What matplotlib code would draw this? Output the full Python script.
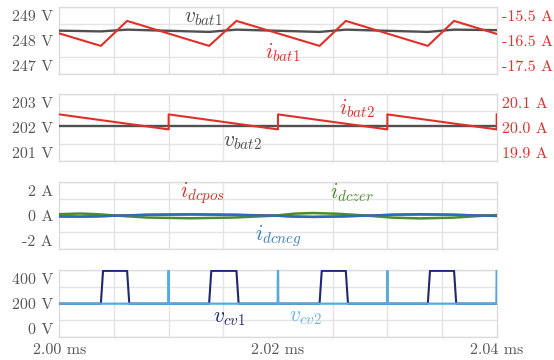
import numpy as np
import matplotlib
matplotlib.use("Agg")
import matplotlib.pyplot as plt
from matplotlib.ticker import FixedLocator, FixedFormatter, NullFormatter

plt.rcParams['font.family'] = 'cmr10'
plt.rcParams['mathtext.fontset'] = 'cm'
plt.rcParams['axes.unicode_minus'] = False

# ---------------- data ----------------
# panel 1: battery 1
t_bat1 = [2.0000, 2.0038, 2.0062, 2.0137, 2.0162, 2.0238, 2.0262, 2.0337, 2.0361, 2.0400]
i_bat1 = [-16.21, -16.71, -15.71, -16.71, -15.71, -16.71, -15.71, -16.71, -15.71, -16.23]
v_bat1 = [248.40, 248.37, 248.44, 248.35, 248.44, 248.35, 248.44, 248.35, 248.44, 248.42]

# panel 2: battery 2
t_bat2 = [2.0000, 2.0100, 2.0100, 2.0200, 2.0200, 2.0300, 2.0300, 2.0400, 2.0400]
i_bat2 = [20.053, 19.993, 20.053, 19.993, 20.053, 19.993, 20.053, 19.993, 20.053]
t_vbat2 = [2.0000, 2.0400]
v_bat2 = [202.05, 202.05]

# panel 3: dc currents
t_dc = [2.0000, 2.0019, 2.0036, 2.0053, 2.0080, 2.0120, 2.0160, 2.0197, 2.0215,
        2.0232, 2.0255, 2.0282, 2.0305, 2.0330, 2.0360, 2.0389, 2.0400]
i_dczer = [0.12, 0.17, 0.11, 0.0, -0.15, -0.21, -0.15, 0.0, 0.16,
           0.21, 0.15, 0.0, -0.16, -0.22, -0.16, 0.0, 0.05]
i_dcpos = [-0.07, -0.09, -0.06, 0.0, 0.08, 0.11, 0.08, 0.0, -0.08,
           -0.11, -0.08, 0.0, 0.08, 0.12, 0.08, 0.0, -0.03]
i_dcneg = [-0.05, -0.07, -0.05, 0.0, 0.06, 0.09, 0.06, 0.0, -0.07,
           -0.09, -0.06, 0.0, 0.07, 0.09, 0.07, 0.0, -0.02]

# panel 4: capacitor voltages
t_cv1 = [2.0000, 2.0038, 2.0040, 2.0062, 2.0064,
         2.0137, 2.0139, 2.0162, 2.0164,
         2.0238, 2.0240, 2.0262, 2.0264,
         2.0337, 2.0339, 2.0361, 2.0363, 2.0400]
v_cv1 = [200, 200, 460, 460, 200,
         200, 460, 460, 200,
         200, 460, 460, 200,
         200, 460, 460, 200, 200]
t_cv2 = [2.0000, 2.00997, 2.00999, 2.01001, 2.01003,
         2.01997, 2.01999, 2.02001, 2.02003,
         2.02997, 2.02999, 2.03001, 2.03003,
         2.03997, 2.04000]
v_cv2 = [200, 200, 460, 460, 200,
         200, 460, 460, 200,
         200, 460, 460, 200,
         200, 460]

x_ticks = [2.00, 2.02, 2.04]
x_ticklabels = ['2.00 ms', '2.02 ms', '2.04 ms']

# ---------------- style ----------------
C_GRAY = '#505050'
C_RED = '#e0302a'
C_GREEN = '#4e8a2e'
C_BLUE = '#2f6cb8'
C_NAVY = '#1f2870'
C_LBLUE = '#55acdc'
C_GRID = '#e4e4e4'
C_TICK = '#575757'
FS_TICK = 11.5
FS_LAB = 15.5

fig = plt.figure(figsize=(5.54, 3.60), dpi=100)
L, W = 59.3 / 554, (496.7 - 59.3) / 554


def make_ax(top_px, bot_px, ylim, yticks, ylabels, bottom=False):
    ax = fig.add_axes([L, 1 - bot_px / 360, W, (bot_px - top_px) / 360])
    ax.set_xlim(2.00, 2.04)
    ax.set_ylim(*ylim)
    ax.xaxis.set_minor_locator(FixedLocator(np.linspace(2.00, 2.04, 9)))
    ax.yaxis.set_minor_locator(FixedLocator(np.linspace(ylim[0], ylim[1], 5)))
    ax.grid(which='minor', color=C_GRID, lw=1.0)
    ax.grid(which='major', visible=False)
    ax.set_axisbelow(True)
    ax.yaxis.set_major_locator(FixedLocator(yticks))
    ax.yaxis.set_major_formatter(FixedFormatter(ylabels))
    ax.xaxis.set_major_locator(FixedLocator(x_ticks))
    if bottom:
        ax.xaxis.set_major_formatter(FixedFormatter(x_ticklabels))
    else:
        ax.xaxis.set_major_formatter(NullFormatter())
    ax.tick_params(which='both', length=0)
    ax.tick_params(axis='y', pad=4.5, labelsize=FS_TICK, labelcolor=C_TICK)
    ax.tick_params(axis='x', pad=4.5, labelsize=FS_TICK, labelcolor=C_TICK)
    for s in ax.spines.values():
        s.set_color('#dcdcdc')
        s.set_linewidth(1.0)
    return ax


def add_right(ax, ylim, yticks, ylabels):
    ax2 = ax.twinx()
    ax2.set_ylim(*ylim)
    ax2.yaxis.set_major_locator(FixedLocator(yticks))
    ax2.yaxis.set_major_formatter(FixedFormatter(ylabels))
    ax2.tick_params(which='both', length=0)
    ax2.tick_params(axis='y', pad=3.5, labelsize=FS_TICK, labelcolor=C_RED)
    for s in ax2.spines.values():
        s.set_visible(False)
    return ax2


def label(ax, x_px, y_px, txt, color):
    fig.text(x_px / 554, 1 - y_px / 360, txt, color=color, fontsize=FS_LAB,
             ha='center', va='center')


# panel 1
ax1 = make_ax(7.3, 74.0, (246.666, 249.334), [247, 248, 249], ['247 V', '248 V', '249 V'])
ax1r = add_right(ax1, (-17.834, -15.166), [-17.5, -16.5, -15.5], ['-17.5 A', '-16.5 A', '-15.5 A'])
ax1.plot(t_bat1, v_bat1, color=C_GRAY, lw=1.7, zorder=3)
ax1r.plot(t_bat1, i_bat1, color=C_RED, lw=1.5, zorder=3)
label(ax1, 203, 18, r'$v_{bat1}$', C_GRAY)
label(ax1, 283, 52, r'$i_{bat1}$', C_RED)

# panel 2
ax2 = make_ax(94.3, 161.0, (200.666, 203.334), [201, 202, 203], ['201 V', '202 V', '203 V'])
ax2r = add_right(ax2, (19.8666, 20.1334), [19.9, 20.0, 20.1], ['19.9 A', '20.0 A', '20.1 A'])
ax2.plot(t_vbat2, v_bat2, color=C_GRAY, lw=1.7, zorder=3)
ax2r.plot(t_bat2, i_bat2, color=C_RED, lw=1.5, zorder=3)
label(ax2, 243, 142, r'$v_{bat2}$', C_GRAY)
label(ax2, 357, 108, r'$i_{bat2}$', C_RED)

# panel 3
ax3 = make_ax(182.3, 249.0, (-2.668, 2.668), [-2, 0, 2], ['-2 A', '0 A', '2 A'])
ax3.plot(t_dc, i_dcpos, color=C_RED, lw=1.7, zorder=3)
ax3.plot(t_dc, i_dczer, color=C_GREEN, lw=1.8, zorder=3)
ax3.plot(t_dc, i_dcneg, color=C_BLUE, lw=1.7, zorder=4)
label(ax3, 202, 193, r'$i_{dcpos}$', C_RED)
label(ax3, 352, 192, r'$i_{dczer}$', C_GREEN)
label(ax3, 279, 236, r'$i_{dcneg}$', '#3a7cc6')

# panel 4
ax4 = make_ax(270.0, 337.3, (-66.7, 466.7), [0, 200, 400], ['0 V', '200 V', '400 V'], bottom=True)
ax4.plot(t_cv1, v_cv1, color=C_NAVY, lw=1.5, zorder=3)
ax4.plot(t_cv2, v_cv2, color=C_LBLUE, lw=1.6, zorder=4)
label(ax4, 229, 318, r'$v_{cv1}$', C_NAVY)
label(ax4, 305, 317, r'$v_{cv2}$', '#6ab8e6')

fig.savefig('out.png', dpi=100)
